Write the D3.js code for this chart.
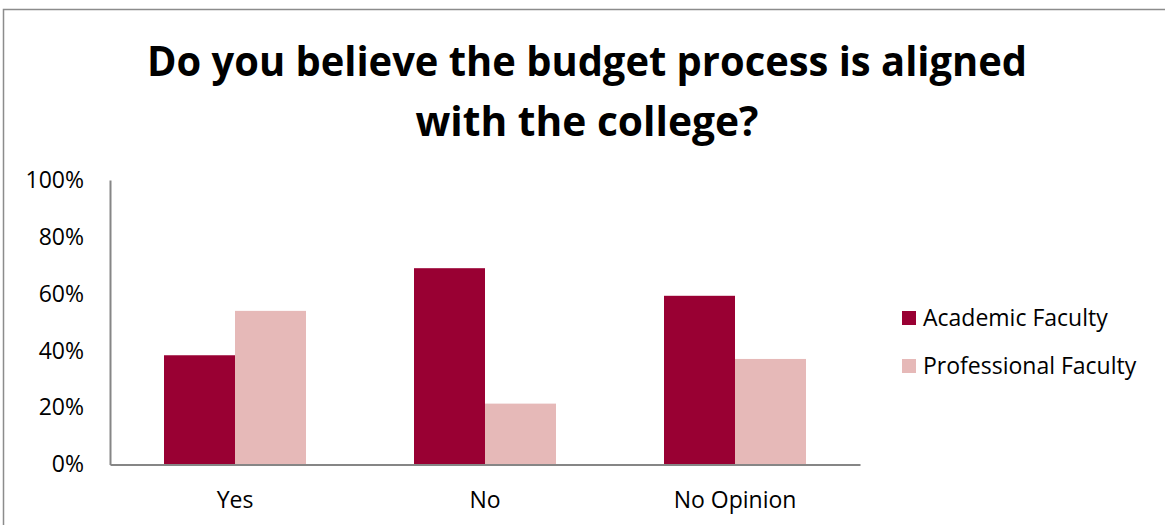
<!DOCTYPE html>
<html>
<head>
<meta charset="utf-8">
<script src="https://cdn.jsdelivr.net/npm/d3@7"></script>
<style>
  html, body { margin: 0; padding: 0; background: #fff; }
  svg { display: block; font-family: "Open Sans", Lato, sans-serif; }
</style>
</head>
<body>
<svg id="chart" width="1165" height="525"></svg>
<script>
// Survey responses
const categories = ["Yes", "No", "No Opinion"];
const seriesNames = ["Academic Faculty", "Professional Faculty"];
const academic = [0.384, 0.690, 0.593];
const professional = [0.540, 0.214, 0.371];
const yTicks = [0, 0.2, 0.4, 0.6, 0.8, 1.0];
const titleLines = ["Do you believe the budget process is aligned", "with the college?"];

const colors = { "Academic Faculty": "#990033", "Professional Faculty": "#E6B9B8" };
const seriesValues = { "Academic Faculty": academic, "Professional Faculty": professional };

const svg = d3.select("#chart");

// Outer frame (top and left edges)
svg.append("path")
  .attr("d", "M3.5,525 V9.5 H1165")
  .attr("fill", "none")
  .attr("stroke", "#8c8c8c")
  .attr("stroke-width", 1.5);

// Title
const title = svg.append("g").attr("font-weight", "bold").attr("font-size", 41).attr("fill", "#000");
title.append("text").attr("x", 587).attr("y", 76).attr("text-anchor", "middle")
  .attr("textLength", 880).attr("lengthAdjust", "spacingAndGlyphs").text(titleLines[0]);
title.append("text").attr("x", 587).attr("y", 136).attr("text-anchor", "middle")
  .attr("textLength", 343).attr("lengthAdjust", "spacingAndGlyphs").text(titleLines[1]);

const plot = { left: 110, right: 860, top: 180, bottom: 464.5 };

const x0 = d3.scaleBand().domain(categories).range([plot.left, plot.right]).paddingInner(0.432).paddingOuter(0.216);
const x1 = d3.scaleBand().domain(seriesNames).range([0, x0.bandwidth()]);
const y = d3.scaleLinear().domain([0, 1]).range([plot.bottom, plot.top]);

// Bars
const groups = svg.append("g").selectAll("g")
  .data(categories)
  .join("g")
  .attr("transform", d => `translate(${x0(d)},0)`);

groups.selectAll("rect")
  .data((c, i) => seriesNames.map(s => ({ s, v: seriesValues[s][i] })))
  .join("rect")
  .attr("x", d => x1(d.s))
  .attr("width", x1.bandwidth())
  .attr("y", d => y(d.v))
  .attr("height", d => y(0) - y(d.v))
  .attr("fill", d => colors[d.s]);

// Y axis
const yAxis = svg.append("g")
  .attr("transform", `translate(${plot.left},0)`)
  .call(d3.axisLeft(y).tickValues(yTicks).tickFormat(d3.format(".0%")).tickSize(0).tickPadding(26));
yAxis.select(".domain").attr("stroke", "#868686").attr("stroke-width", 2);
yAxis.selectAll("text").attr("font-size", 23).attr("fill", "#000").attr("font-family", "'Open Sans', sans-serif");

// X axis
const xAxis = svg.append("g")
  .attr("transform", `translate(0,${plot.bottom})`)
  .call(d3.axisBottom(x0).tickSize(0).tickPadding(27));
xAxis.select(".domain").attr("stroke", "#868686").attr("stroke-width", 2);
xAxis.selectAll("text").attr("font-size", 23).attr("fill", "#000").attr("font-family", "'Open Sans', sans-serif");

// Legend
const legend = svg.append("g").attr("transform", "translate(902,311)");
const li = legend.selectAll("g").data(seriesNames).join("g")
  .attr("transform", (d, i) => `translate(0,${i * 48})`);
li.append("rect").attr("width", 14).attr("height", 14).attr("fill", d => colors[d]);
li.append("text").attr("x", 21).attr("y", 7).attr("dy", "0.35em")
  .attr("font-size", 23).attr("fill", "#000").text(d => d);
</script>
</body>
</html>
